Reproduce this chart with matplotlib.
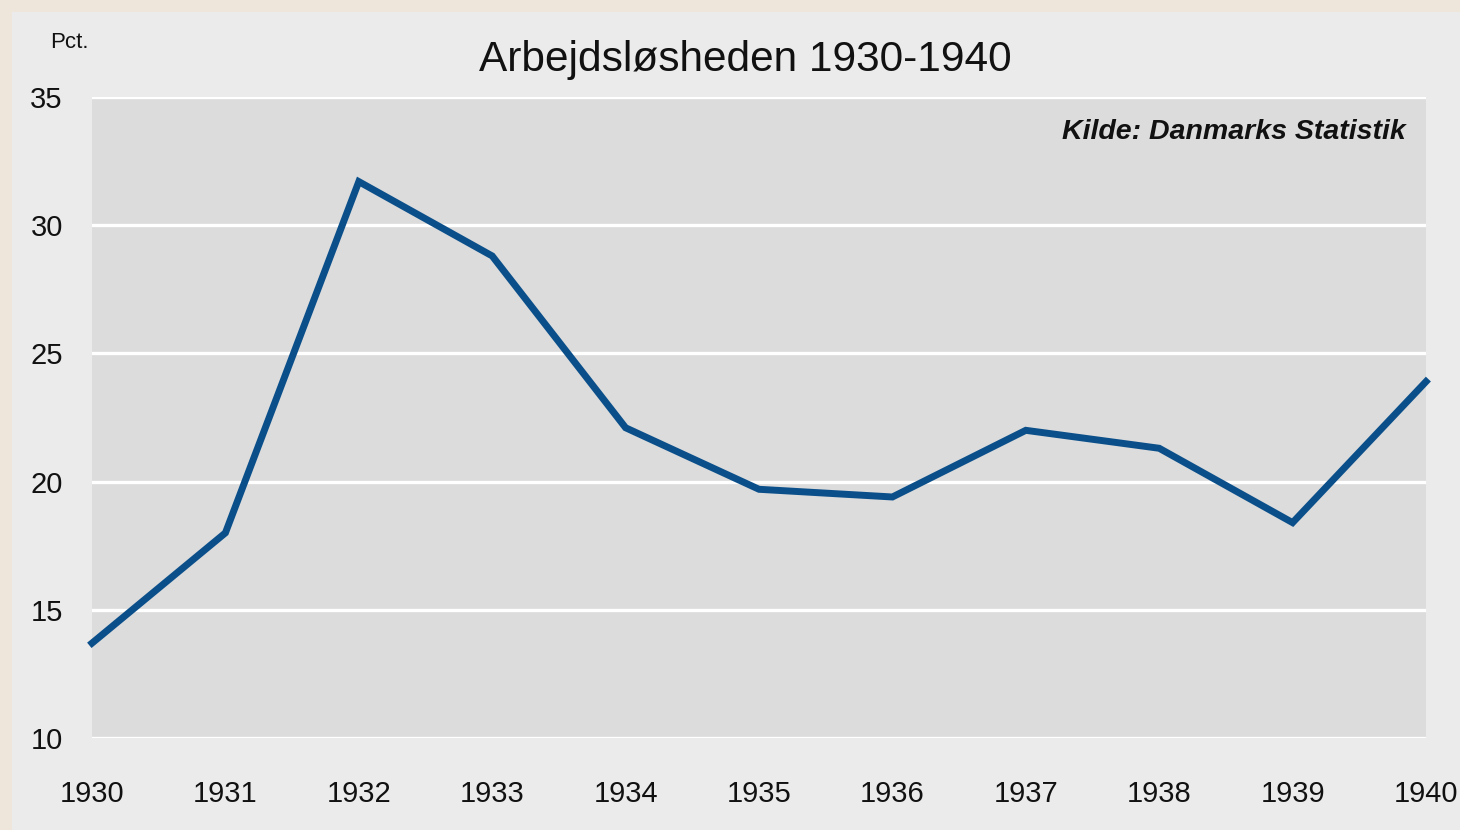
import matplotlib.pyplot as plt
from matplotlib.patches import Rectangle

# data
years = [1930, 1931, 1932, 1933, 1934, 1935, 1936, 1937, 1938, 1939, 1940]
pct = [13.7, 18.0, 31.7, 28.8, 22.1, 19.7, 19.4, 22.0, 21.3, 18.4, 23.9]
y_ticks = [10, 15, 20, 25, 30, 35]

title = "Arbejdsløsheden 1930-1940"
source = "Kilde: Danmarks Statistik"
unit = "Pct."

plt.rcParams['font.family'] = ['Liberation Sans', 'DejaVu Sans']

fig = plt.figure(figsize=(14.6, 8.3), dpi=100, facecolor="#EEE5DB")
# light grey panel behind everything
fig.patches.append(Rectangle((12 / 1460, 0), 1, 1 - 12 / 830, transform=fig.transFigure,
                             facecolor="#EBEBEB", edgecolor="none", zorder=-5))

ax = fig.add_axes([92 / 1460, 1 - 738 / 830, (1426 - 92) / 1460, (738 - 97) / 830])
ax.set_facecolor("#DCDCDC")
ax.set_xlim(years[0], years[-1])
ax.set_ylim(10, 35)
ax.set_yticks(y_ticks)
ax.set_xticks(years)
ax.grid(axis="y", color="white", linewidth=2.4)
ax.set_axisbelow(True)
for s in ax.spines.values():
    s.set_visible(False)
ax.tick_params(length=0, labelsize=21, colors="#111111")
ax.tick_params(axis="x", pad=30)
ax.tick_params(axis="y", pad=21)

ax.plot(years, pct, color="#0B4F8A", linewidth=5, solid_joinstyle="miter", clip_on=False)

fig.text(745 / 1460, 1 - 60 / 830, title, ha="center", va="center", fontsize=30.5,
         fontweight="medium", color="#111111")
fig.text(69 / 1460, 1 - 42 / 830, unit, ha="center", va="center", fontsize=16, color="#111111")
ax.text(0.985, 0.945, source, transform=ax.transAxes, ha="right", va="center",
        fontsize=20.5, fontweight="bold", fontstyle="italic", color="#111111")

fig.savefig("out.png", dpi=100, facecolor=fig.get_facecolor())
